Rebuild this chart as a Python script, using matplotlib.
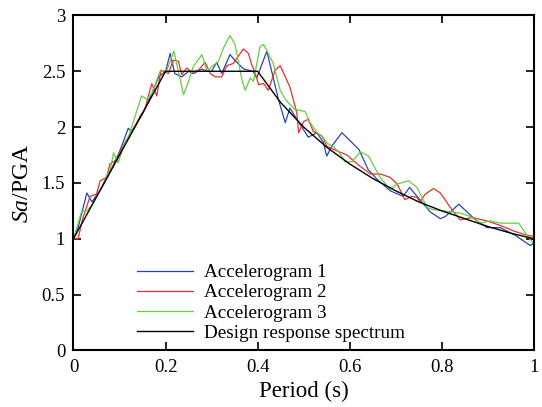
import matplotlib
matplotlib.use('Agg')
import matplotlib.pyplot as plt

plt.rcParams['font.family'] = ['Liberation Serif', 'DejaVu Serif']
plt.rcParams['mathtext.fontset'] = 'custom'
plt.rcParams['mathtext.rm'] = 'Liberation Serif'
plt.rcParams['mathtext.it'] = 'Liberation Serif:italic'

# design response spectrum
design_T = [0, 0.2, 0.4, 0.45, 0.5, 0.55, 0.6, 0.65, 0.7, 0.75, 0.8, 0.85, 0.9, 0.95, 1.0]
design_sa = [1.0, 2.5, 2.5, 2.22, 2.0, 1.82, 1.67, 1.54, 1.43, 1.33, 1.25, 1.18, 1.11, 1.05, 1.0]

acc1_T = [0, 0.01, 0.029, 0.04, 0.06, 0.08, 0.1, 0.119, 0.126, 0.15, 0.17, 0.185, 0.2, 0.21,
          0.22, 0.235, 0.25, 0.26, 0.27, 0.28, 0.29, 0.3, 0.311, 0.322, 0.34, 0.35, 0.37, 0.39,
          0.398, 0.42, 0.445, 0.46, 0.47, 0.51, 0.529, 0.543, 0.55, 0.561, 0.583, 0.62, 0.64,
          0.66, 0.688, 0.716, 0.73, 0.775, 0.797, 0.808, 0.837, 0.873, 0.898, 0.927, 0.96,
          0.992, 1.0]
acc1_sa = [1.0, 1.1, 1.41, 1.33, 1.45, 1.6, 1.78, 1.99, 1.96, 2.12, 2.3, 2.45, 2.5, 2.66,
           2.48, 2.45, 2.5, 2.48, 2.5, 2.52, 2.5, 2.5, 2.58, 2.48, 2.65, 2.6, 2.52, 2.5,
           2.44, 2.68, 2.25, 2.04, 2.17, 1.91, 1.95, 1.86, 1.74, 1.83, 1.95, 1.8, 1.62,
           1.53, 1.43, 1.38, 1.46, 1.24, 1.18, 1.2, 1.31, 1.17, 1.1, 1.1, 1.03,
           0.94, 0.96]

acc2_T = [0, 0.01, 0.02, 0.036, 0.05, 0.058, 0.072, 0.079, 0.094, 0.11, 0.13, 0.145, 0.155,
          0.17, 0.181, 0.19, 0.206, 0.217, 0.228, 0.235, 0.246, 0.257, 0.271, 0.286, 0.297,
          0.308, 0.322, 0.333, 0.347, 0.369, 0.38, 0.387, 0.395, 0.402, 0.413, 0.423, 0.438,
          0.449, 0.47, 0.485, 0.489, 0.5, 0.51, 0.521, 0.54, 0.55, 0.565, 0.594, 0.616, 0.645,
          0.666, 0.688, 0.703, 0.72, 0.735, 0.746, 0.753, 0.764, 0.782, 0.797, 0.822, 0.84,
          0.866, 0.898, 0.927, 0.956, 0.978, 1.0]
acc2_sa = [1.0, 1.0, 1.18, 1.38, 1.4, 1.52, 1.55, 1.67, 1.71, 1.85, 1.98, 2.1, 2.16,
           2.39, 2.28, 2.51, 2.48, 2.6, 2.59, 2.47, 2.53, 2.49, 2.51, 2.58, 2.48,
           2.45, 2.45, 2.55, 2.57, 2.7, 2.66, 2.56, 2.48, 2.38, 2.39, 2.33, 2.51,
           2.55, 2.36, 2.13, 1.95, 2.05, 2.07, 1.96, 1.92, 1.83, 1.8, 1.75, 1.67, 1.58,
           1.58, 1.55, 1.49, 1.35, 1.38, 1.37, 1.33, 1.4, 1.45, 1.41, 1.26, 1.17,
           1.19, 1.16, 1.12, 1.07, 1.04, 1.02]

acc3_T = [0, 0.018, 0.029, 0.04, 0.05, 0.06, 0.07, 0.08, 0.087, 0.097, 0.11, 0.12, 0.13,
          0.148, 0.159, 0.17, 0.188, 0.203, 0.218, 0.239, 0.25, 0.26, 0.279, 0.29, 0.3,
          0.315, 0.326, 0.34, 0.351, 0.366, 0.373, 0.384, 0.391, 0.405, 0.413, 0.434, 0.449,
          0.46, 0.48, 0.503, 0.514, 0.529, 0.54, 0.55, 0.565, 0.576, 0.59, 0.605, 0.623,
          0.641, 0.666, 0.688, 0.703, 0.728, 0.746, 0.768, 0.782, 0.804, 0.84, 0.862, 0.884,
          0.905, 0.927, 0.949, 0.967, 0.982, 1.0]
acc3_sa = [1.0, 1.25, 1.25, 1.3, 1.38, 1.45, 1.55, 1.62, 1.77, 1.68, 1.85, 1.92, 2.05,
           2.28, 2.25, 2.3, 2.5, 2.51, 2.68, 2.29, 2.41, 2.54, 2.65, 2.5, 2.54,
           2.59, 2.71, 2.82, 2.74, 2.42, 2.33, 2.44, 2.41, 2.72, 2.74, 2.57, 2.33,
           2.25, 2.16, 2.14, 2.04, 1.95, 1.92, 1.86, 1.82, 1.78, 1.69, 1.69, 1.78,
           1.74, 1.55, 1.44, 1.49, 1.52, 1.46, 1.28, 1.26, 1.25, 1.23, 1.2, 1.14,
           1.16, 1.14, 1.14, 1.14, 1.05, 0.95]

fig = plt.figure(figsize=(5.42, 4.07), dpi=100)
ax = fig.add_axes([0.1356, 0.139, 0.8494, 0.823])

ax.plot(acc1_T, acc1_sa, color='#2a44b0', lw=0.9, label='Accelerogram 1')
ax.plot(acc2_T, acc2_sa, color='#e8302a', lw=0.9, label='Accelerogram 2')
ax.plot(acc3_T, acc3_sa, color='#66cc44', lw=0.9, label='Accelerogram 3')
ax.plot(design_T, design_sa, color='black', lw=1.0, label='Design response spectrum')

ax.set_xlim(0, 1)
ax.set_ylim(0, 3)
ax.set_xticks([0, 0.2, 0.4, 0.6, 0.8, 1])
ax.set_xticklabels(['0', '0.2', '0.4', '0.6', '0.8', '1'])
ax.set_yticks([0, 0.5, 1, 1.5, 2, 2.5, 3])
ax.set_yticklabels(['0', '0.5', '1', '1.5', '2', '2.5', '3'])
ax.tick_params(direction='in', top=True, right=True, length=6, width=1.2,
               labelsize=13.5, pad=6)
for s in ax.spines.values():
    s.set_linewidth(1.5)

ax.set_xlabel('Period (s)', fontsize=16.5, labelpad=4)
ax.set_ylabel(r'$Sa$/PGA', fontsize=17, labelpad=6)

ax.legend(loc='lower left', bbox_to_anchor=(0.109, -0.014), frameon=False, fontsize=13.8,
          handlelength=2.9, handletextpad=0.6, labelspacing=0.14, borderpad=0.2)

fig.savefig('out.png', dpi=100)
